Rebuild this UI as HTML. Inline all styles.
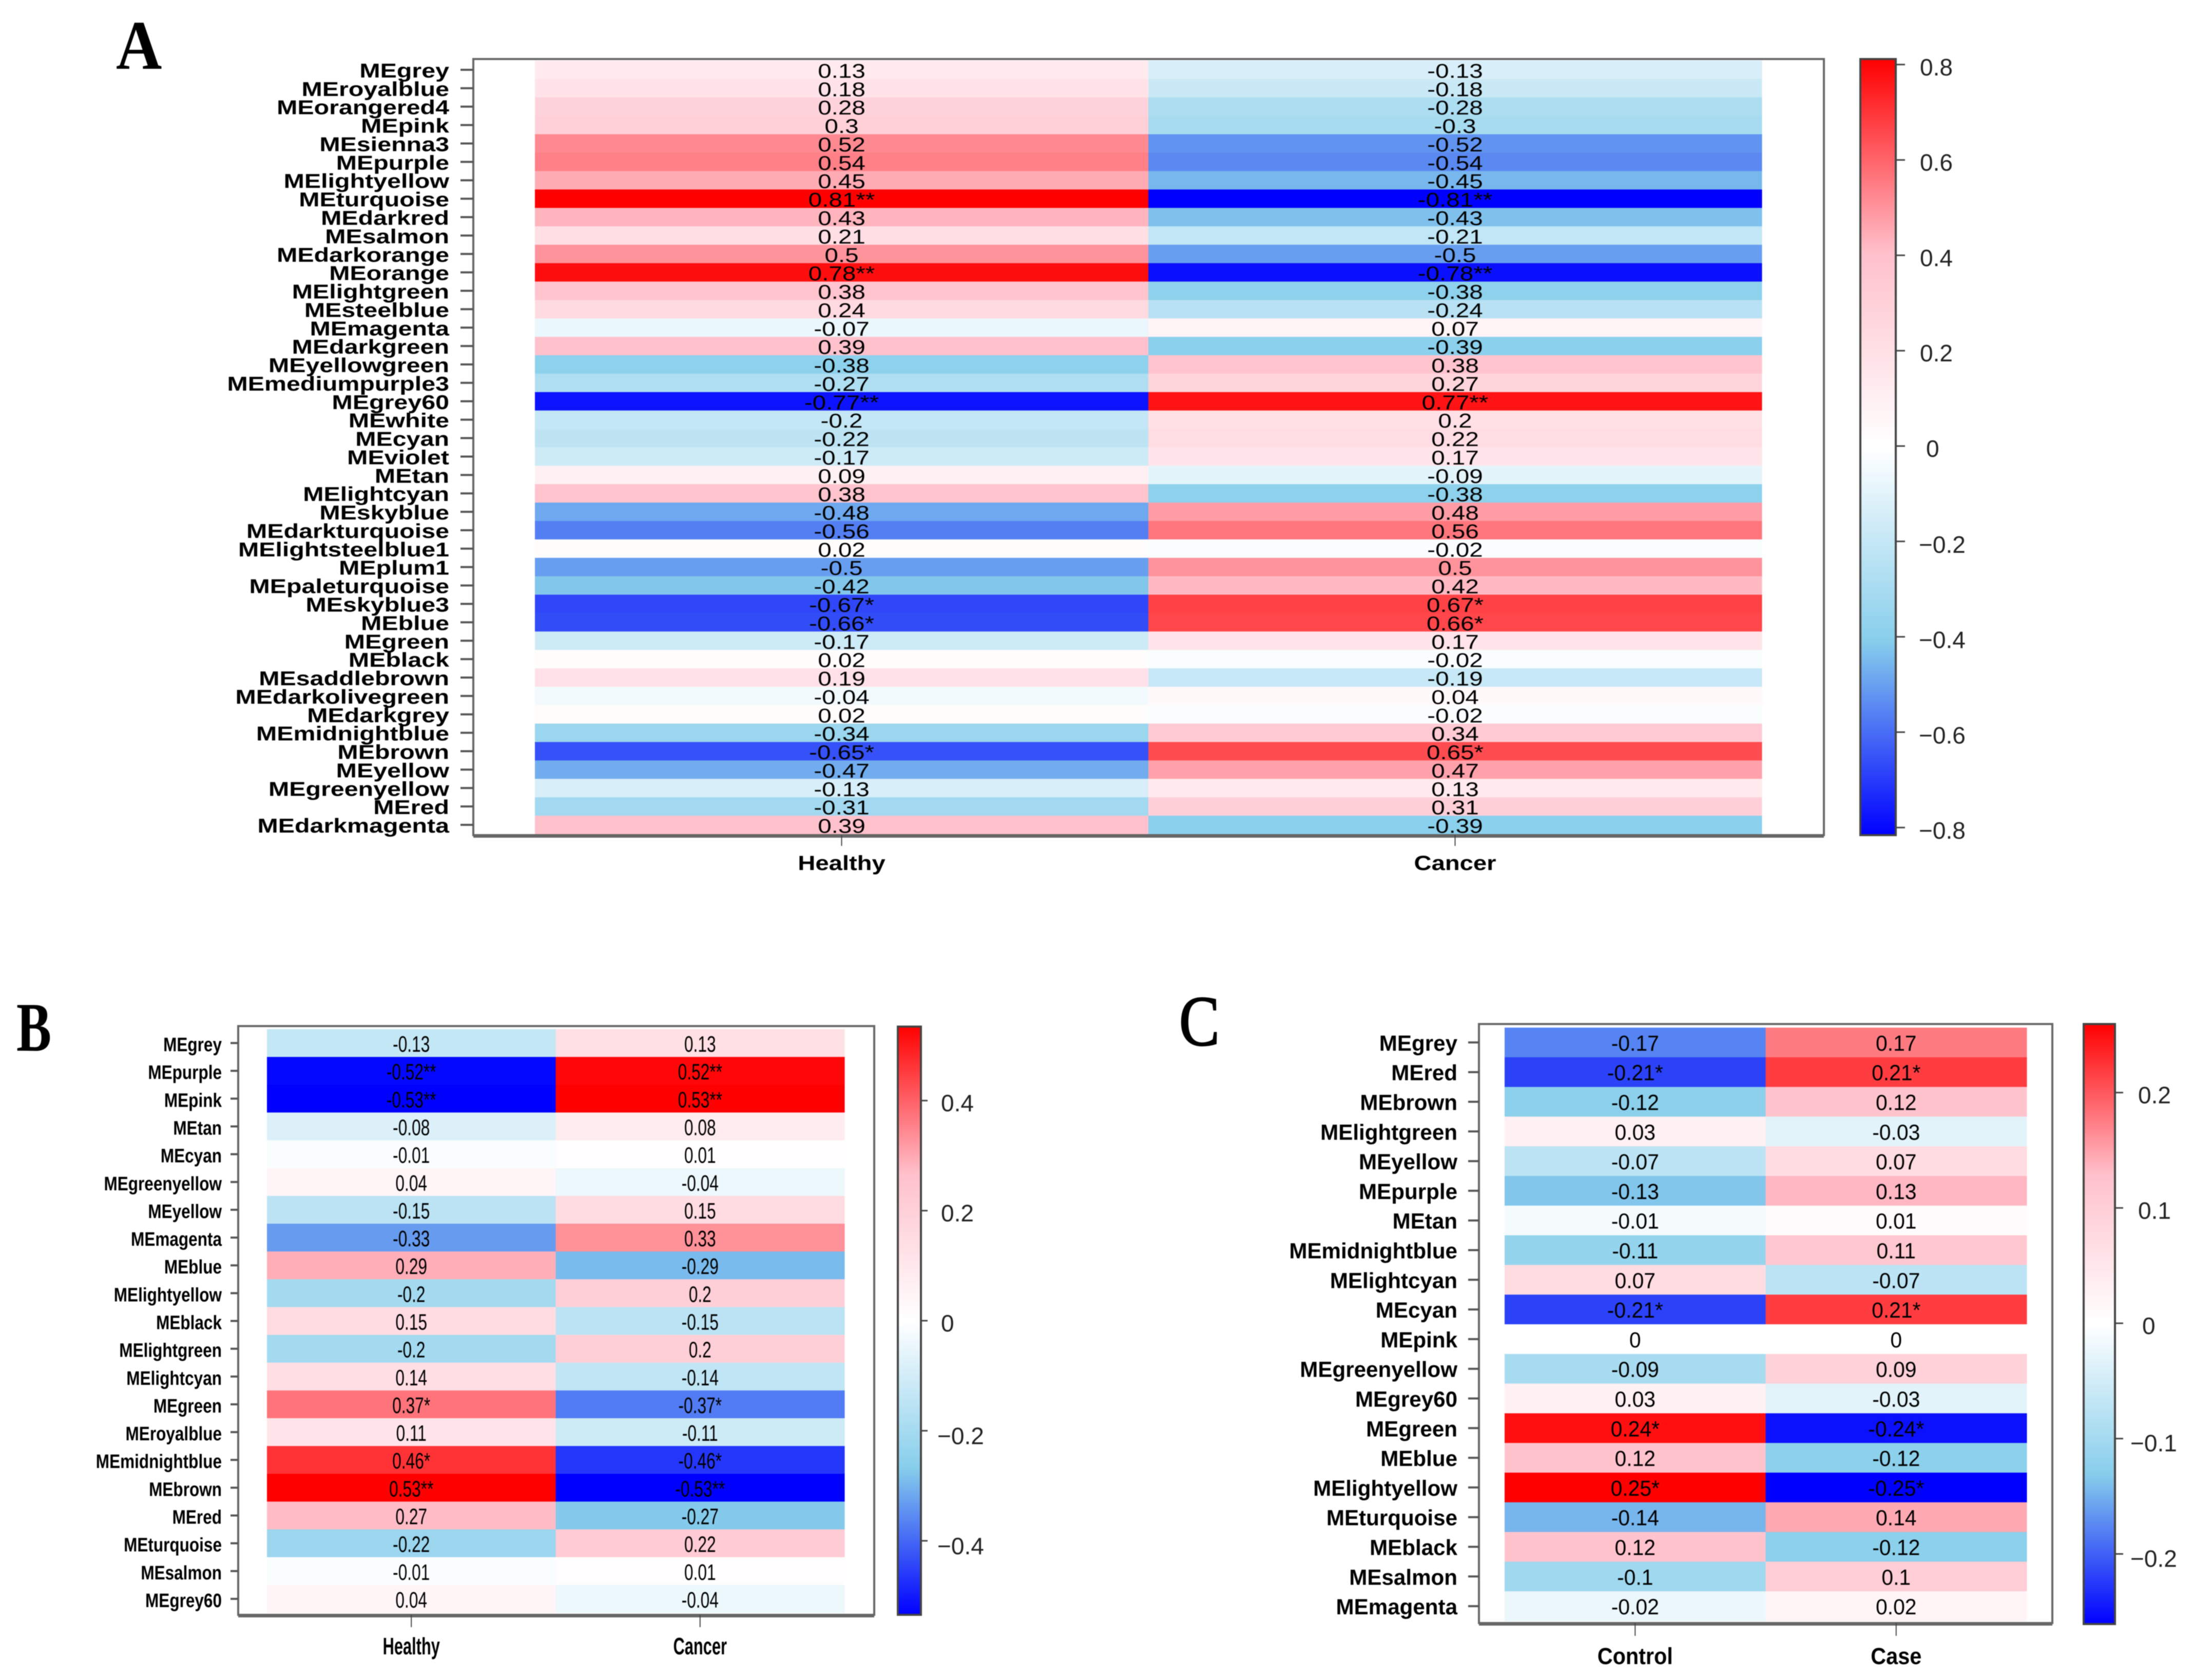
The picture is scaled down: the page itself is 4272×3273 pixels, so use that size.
<!DOCTYPE html>
<html>
<head>
<meta charset="utf-8">
<title>Module-trait correlation heatmaps</title>
<style>
html,body{margin:0;padding:0;background:#fff;width:4272px;height:3273px;overflow:hidden}
svg{display:block;filter:blur(0.9px)}
text{font-family:"Liberation Sans",sans-serif}
</style>
</head>
<body>
<svg id="figure" xmlns="http://www.w3.org/2000/svg" width="4272" height="3273" viewBox="0 0 4272 3273">
<defs>
<linearGradient id="ramp" x1="0" y1="0" x2="0" y2="1">
<stop offset="0" stop-color="#ff0000"/>
<stop offset="0.25" stop-color="#ffc0cb"/>
<stop offset="0.5" stop-color="#ffffff"/>
<stop offset="0.75" stop-color="#87ceeb"/>
<stop offset="1" stop-color="#0000ff"/>
</linearGradient>
</defs>
<rect x="0" y="0" width="4272" height="3273" fill="#fff"/>
<text transform="translate(226,134) scale(0.91,1)" style="font-family:'Liberation Serif',serif;font-weight:bold;font-size:136px">A</text>
<text transform="translate(32,2047) scale(0.75,1)" style="font-family:'Liberation Serif',serif;font-weight:bold;font-size:136px">B</text>
<text transform="translate(2297,2036) scale(0.85,1)" stroke="#000" stroke-width="2.5" style="font-family:'Liberation Serif',serif;font-size:139px">C</text>
<g id="panel-a"></g>
<g id="panel-b"></g>
<g id="panel-c"></g>
</svg>
<script>
/* Panel A data */
const rowsA = ["MEgrey","MEroyalblue","MEorangered4","MEpink","MEsienna3","MEpurple","MElightyellow","MEturquoise","MEdarkred","MEsalmon","MEdarkorange","MEorange","MElightgreen","MEsteelblue","MEmagenta","MEdarkgreen","MEyellowgreen","MEmediumpurple3","MEgrey60","MEwhite","MEcyan","MEviolet","MEtan","MElightcyan","MEskyblue","MEdarkturquoise","MElightsteelblue1","MEplum1","MEpaleturquoise","MEskyblue3","MEblue","MEgreen","MEblack","MEsaddlebrown","MEdarkolivegreen","MEdarkgrey","MEmidnightblue","MEbrown","MEyellow","MEgreenyellow","MEred","MEdarkmagenta"];
const col1A = [0.13,0.18,0.28,0.3,0.52,0.54,0.45,0.81,0.43,0.21,0.5,0.78,0.38,0.24,-0.07,0.39,-0.38,-0.27,-0.77,-0.2,-0.22,-0.17,0.09,0.38,-0.48,-0.56,0.02,-0.5,-0.42,-0.67,-0.66,-0.17,0.02,0.19,-0.04,0.02,-0.34,-0.65,-0.47,-0.13,-0.31,0.39];
const col2A = [-0.13,-0.18,-0.28,-0.3,-0.52,-0.54,-0.45,-0.81,-0.43,-0.21,-0.5,-0.78,-0.38,-0.24,0.07,-0.39,0.38,0.27,0.77,0.2,0.22,0.17,-0.09,-0.38,0.48,0.56,-0.02,0.5,0.42,0.67,0.66,0.17,-0.02,-0.19,0.04,-0.02,0.34,0.65,0.47,0.13,0.31,-0.39];
const starsA = ["","","","","","","","**","","","","**","","","","","","","**","","","","","","","","","","","*","*","","","","","","","*","","","",""];
const columnsA = ["Healthy","Cancer"];
const ticksA = [0.8,0.6,0.4,0.2,0,-0.2,-0.4,-0.6,-0.8];

/* Panel B data */
const rowsB = ["MEgrey","MEpurple","MEpink","MEtan","MEcyan","MEgreenyellow","MEyellow","MEmagenta","MEblue","MElightyellow","MEblack","MElightgreen","MElightcyan","MEgreen","MEroyalblue","MEmidnightblue","MEbrown","MEred","MEturquoise","MEsalmon","MEgrey60"];
const col1B = [-0.13,-0.52,-0.53,-0.08,-0.01,0.04,-0.15,-0.33,0.29,-0.2,0.15,-0.2,0.14,0.37,0.11,0.46,0.53,0.27,-0.22,-0.01,0.04];
const col2B = [0.13,0.52,0.53,0.08,0.01,-0.04,0.15,0.33,-0.29,0.2,-0.15,0.2,-0.14,-0.37,-0.11,-0.46,-0.53,-0.27,0.22,0.01,-0.04];
const starsB = ["","**","**","","","","","","","","","","","*","","*","**","","","",""];
const columnsB = ["Healthy","Cancer"];
const ticksB = [0.4,0.2,0,-0.2,-0.4];

/* Panel C data */
const rowsC = ["MEgrey","MEred","MEbrown","MElightgreen","MEyellow","MEpurple","MEtan","MEmidnightblue","MElightcyan","MEcyan","MEpink","MEgreenyellow","MEgrey60","MEgreen","MEblue","MElightyellow","MEturquoise","MEblack","MEsalmon","MEmagenta"];
const col1C = [-0.17,-0.21,-0.12,0.03,-0.07,-0.13,-0.01,-0.11,0.07,-0.21,0,-0.09,0.03,0.24,0.12,0.25,-0.14,0.12,-0.1,-0.02];
const col2C = [0.17,0.21,0.12,-0.03,0.07,0.13,0.01,0.11,-0.07,0.21,0,0.09,-0.03,-0.24,-0.12,-0.25,0.14,-0.12,0.1,0.02];
const starsC = ["","*","","","","","","","","*","","","","*","","*","","","",""];
const columnsC = ["Control","Case"];
const ticksC = [0.2,0.1,0,-0.1,-0.2];

const NS = "http://www.w3.org/2000/svg";
const rampStops = [[0,0,255],[135,206,235],[255,255,255],[255,192,203],[255,0,0]];

function colorFor(v, maxAbs) {
  const t = Math.max(0, Math.min(1, (v / maxAbs + 1) / 2)) * 4;
  const i = Math.min(3, Math.floor(t));
  const f = t - i;
  const a = rampStops[i], b = rampStops[i + 1];
  return "rgb(" + a.map(function (c, k) { return Math.round(c + (b[k] - c) * f); }).join(",") + ")";
}

function make(parent, tag, attrs, content) {
  const el = document.createElementNS(NS, tag);
  for (const k in attrs) el.setAttribute(k, attrs[k]);
  if (content !== undefined) el.textContent = content;
  parent.appendChild(el);
  return el;
}

function stretchedText(parent, x, y, sx, size, weight, anchor, fill, content) {
  return make(parent, "text", {
    transform: "translate(" + x + "," + y + ") scale(" + sx + ",1)",
    "text-anchor": anchor,
    "font-size": size,
    "font-weight": weight,
    fill: fill
  }, content);
}

function drawPanel(g, rows, col1, col2, stars, columns, ticks, p) {
  const rowH = (p.cellBottom - p.cellTop) / rows.length;
  const colW = (p.cellRight - p.cellLeft) / 2;
  const rowY = function (i) { return p.cellTop + rowH * (i + 0.5); };
  const colX = function (j) { return p.cellLeft + colW * (j + 0.5); };
  const barY = function (v) { return p.barZero - v * p.barScale; };
  const series = [col1, col2];

  series.forEach(function (vals, j) {
    vals.forEach(function (v, i) {
      const cell = make(g, "rect", {
        x: p.cellLeft + colW * j,
        y: p.cellTop + rowH * i,
        width: colW + 0.5,
        height: rowH + 0.5,
        fill: colorFor(v, p.maxAbs)
      });
      
      
    });
  });

  series.forEach(function (vals, j) {
    vals.forEach(function (v, i) {
      const label = stretchedText(g, colX(j), rowY(i) + p.valDy, p.valSx, p.valFs, "normal", "middle", "#000", String(v) + stars[i]);
      
      
    });
  });

  const frame = make(g, "rect", {
    x: p.frameLeft, y: p.frameTop,
    width: p.frameRight - p.frameLeft,
    height: p.frameBottom - p.frameTop,
    fill: "none", stroke: "#666", "stroke-width": 4
  });
  
  

  const frameBase = make(g, "line", {
    x1: p.frameLeft, x2: p.frameRight, y1: p.frameBottom + 2, y2: p.frameBottom + 2,
    stroke: "#666", "stroke-width": 6
  });
  
  

  rows.forEach(function (name, i) {
    const tick = make(g, "line", {
      x1: p.frameLeft - p.rowTickLen, x2: p.frameLeft,
      y1: rowY(i), y2: rowY(i),
      stroke: "#555", "stroke-width": 4
    });
    
    
    const label = stretchedText(g, p.labelRight, rowY(i) + p.labelDy, p.labelSx, p.labelFs, "bold", "end", "#000", name);
    
    
  });

  columns.forEach(function (name, j) {
    const tick = make(g, "line", {
      x1: colX(j), x2: colX(j),
      y1: p.frameBottom, y2: p.xTickEnd,
      stroke: "#444", "stroke-width": 2
    });
    
    
    const label = stretchedText(g, colX(j), p.xLabelBase, p.xSx, p.xFs, "bold", "middle", "#000", name);
    
    
  });

  const bar = make(g, "rect", {
    x: p.barLeft, y: p.barTop,
    width: p.barRight - p.barLeft,
    height: p.barBottom - p.barTop,
    fill: "url(#ramp)", stroke: "#444", "stroke-width": 4
  });
  
  

  ticks.forEach(function (v) {
    const y = barY(v);
    const tick = make(g, "line", {
      x1: p.barRight, x2: p.barRight + p.barTickLen, y1: y, y2: y,
      stroke: "#444", "stroke-width": 3
    });
    
    
    const dx = v === 0 ? p.zeroDx : (v < 0 ? p.negDx : 0);
    const dy = v < 0 ? p.negDy : 0;
    const text = (v < 0 ? "\u2212" : "") + String(Math.abs(v));
    const label = stretchedText(g, p.barLabelX + dx, y + 21 + dy, 1, 46, "normal", "start", "#222", text);
    
    
  });
}

drawPanel(document.getElementById("panel-a"), rowsA, col1A, col2A, starsA, columnsA, ticksA, {
  maxAbs: 0.81,
  cellLeft: 1042, cellRight: 3432, cellTop: 118, cellBottom: 1625,
  frameLeft: 922, frameRight: 3553, frameTop: 115, frameBottom: 1627,
  rowTickLen: 25, labelRight: 875, labelFs: 39, labelSx: 1.24, labelDy: 15,
  valFs: 39, valSx: 1.22, valDy: 15.5,
  xFs: 40, xSx: 1.18, xLabelBase: 1695, xTickEnd: 1648,
  barLeft: 3624, barRight: 3693, barTop: 115, barBottom: 1627,
  barZero: 869, barScale: 929, barTickLen: 18, barLabelX: 3740, zeroDx: 12, negDx: -2, negDy: 1
});

drawPanel(document.getElementById("panel-b"), rowsB, col1B, col2B, starsB, columnsB, ticksB, {
  maxAbs: 0.53,
  cellLeft: 520, cellRight: 1645, cellTop: 2005, cellBottom: 3142,
  frameLeft: 464, frameRight: 1703, frameTop: 1999, frameBottom: 3146,
  rowTickLen: 15, labelRight: 432, labelFs: 38, labelSx: 0.83, labelDy: 16,
  valFs: 44, valSx: 0.72, valDy: 17,
  xFs: 46, xSx: 0.67, xLabelBase: 3223, xTickEnd: 3170,
  barLeft: 1749, barRight: 1794, barTop: 2000, barBottom: 3146,
  barZero: 2573, barScale: 1072, barTickLen: 13, barLabelX: 1833, zeroDx: 0, negDx: -7, negDy: 5
});

drawPanel(document.getElementById("panel-c"), rowsC, col1C, col2C, starsC, columnsC, ticksC, {
  maxAbs: 0.25,
  cellLeft: 2931, cellRight: 3948, cellTop: 2002, cellBottom: 3158,
  frameLeft: 2881, frameRight: 3998, frameTop: 1995, frameBottom: 3162,
  rowTickLen: 21, labelRight: 2839, labelFs: 43, labelSx: 0.98, labelDy: 16,
  valFs: 43, valSx: 0.95, valDy: 16,
  xFs: 45, xSx: 0.92, xLabelBase: 3242, xTickEnd: 3187,
  barLeft: 4059, barRight: 4120, barTop: 1995, barBottom: 3164,
  barZero: 2578, barScale: 2247, barTickLen: 16, barLabelX: 4165, zeroDx: 8, negDx: -15, negDy: 4
});
</script>
</body>
</html>
